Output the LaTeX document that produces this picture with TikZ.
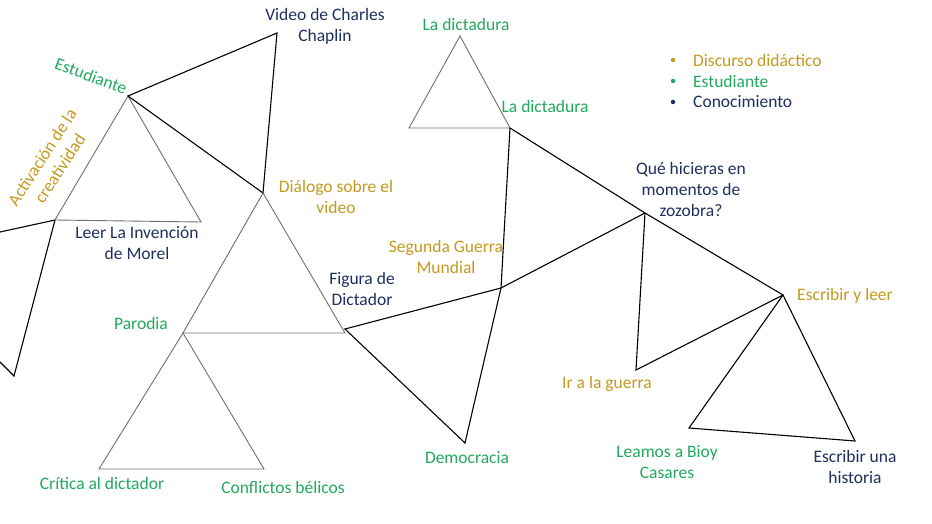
\documentclass[tikz,border=0pt]{standalone}
\usepackage{fontspec}
\setmainfont{Carlito}
\definecolor{gold}{HTML}{C49A1E}
\definecolor{grn}{HTML}{22A95E}
\definecolor{navy}{HTML}{1F2F60}
\definecolor{thin}{HTML}{707070}
\begin{document}
\begin{tikzpicture}[x=1pt,y=-1pt,
  lbl/.style={inner sep=0pt,align=center,font=\fontsize{17.5}{21}\selectfont},
  tg/.style={lbl,text=gold}, tgr/.style={lbl,text=grn}, tn/.style={lbl,text=navy},
  dot/.style={circle,inner sep=0pt,minimum size=4.5pt},
  blk/.style={draw=black,line width=1.1pt,line join=miter},
  gry/.style={draw=thin,line width=0.9pt,line join=miter}]
\useasboundingbox[fill=white] (0,0) rectangle (932,524);
% vertices
\coordinate (L0) at (0,232);
\coordinate (L1) at (55,220);
\coordinate (L2) at (14,376);
\coordinate (L3) at (0,362);
\coordinate (E) at (128,96);
\coordinate (EB) at (201,222);
\coordinate (V) at (277,33);
\coordinate (D) at (263,193);
\coordinate (P) at (183,333);
\coordinate (F) at (345,333);
\coordinate (F2) at (345,329);
\coordinate (C1) at (99,469);
\coordinate (C2) at (264,469);
\coordinate (S) at (501,288);
\coordinate (Dem) at (465,443);
\coordinate (T) at (460,36);
\coordinate (TL) at (409,128);
\coordinate (TR) at (510,128);
\coordinate (Z) at (645,213);
\coordinate (I) at (636,370);
\coordinate (W) at (783,295);
\coordinate (B) at (689,428);
\coordinate (H) at (855,441);
% lines
\draw[blk] (L0) -- (L1) -- (L2) -- (L3);
\draw[gry] (E) -- (L1) -- (EB) -- cycle;
\draw[blk] (E) -- (V) -- (D) -- cycle;
\draw[gry] (D) -- (P) -- (F) -- cycle;
\draw[gry] (P) -- (C1) -- (C2) -- cycle;
\draw[blk] (F2) -- (S) -- (Dem) -- cycle;
\draw[gry] (T) -- (TL) -- (TR) -- cycle;
\draw[blk] (TR) -- (S);
\draw[blk] (S) -- (Z);
\draw[blk] (TR) -- (Z) -- (W);
\draw[blk] (Z) -- (I) -- (W);
\draw[blk] (W) -- (B) -- (H) -- cycle;
% labels
\node[tn] (tV) at (325,26.5) {Video de Charles\\Chaplin};
\node[tgr,rotate=-20] (tE) at (91,76) {Estudiante};
\node[tg,rotate=57] (tA) at (51,163) {Activación de la\\creatividad};
\node[tn] (tL) at (137,243) {Leer La Invención\\de Morel};
\node[tg] (tD) at (336,196.5) {Diálogo sobre el\\video};
\node[tgr] (tP) at (141,323) {Parodia};
\node[tn] (tF) at (362,289) {Figura de\\Dictador};
\node[tg] (tS) at (446,256.5) {Segunda Guerra\\Mundial};
\node[tgr] (tC1) at (102,483) {Crítica al dictador};
\node[tgr] (tC2) at (283,487) {Conflictos bélicos};
\node[tgr] (tDem) at (467,458) {Democracia};
\node[tgr] (tT) at (466,24) {La dictadura};
\node[tgr] (tTR) at (545,106) {La dictadura};
\node[tn] (tZ) at (691,189) {Qué hicieras en\\momentos de\\zozobra?};
\node[tg] (tW) at (845,296) {Escribir y leer};
\node[tg] (tI) at (607,384) {Ir a la guerra};
\node[tgr] (tB) at (667,462.5) {Leamos a Bioy\\Casares};
\node[tn] (tH) at (855,466.5) {Escribir una\\historia};
% legend
\node[dot,fill=gold] (b1) at (673,60) {};
\node[dot,fill=grn] (b2) at (673,81) {};
\node[dot,fill=navy] (b3) at (673,102) {};
\node[tg,anchor=west] (g1) at (693,60) {Discurso didáctico};
\node[tgr,anchor=west] (g2) at (693,81) {Estudiante};
\node[tn,anchor=west] (g3) at (693,102) {Conocimiento};
\end{tikzpicture}
\end{document}
